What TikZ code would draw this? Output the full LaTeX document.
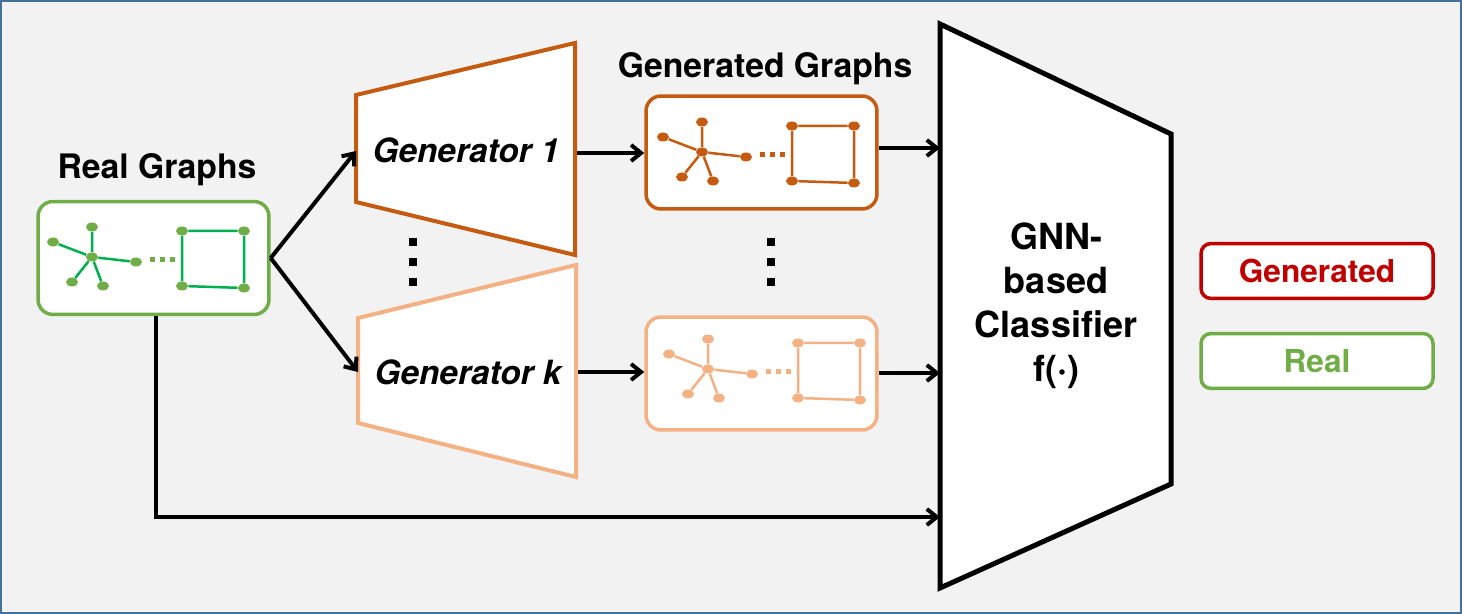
\documentclass[tikz,border=0pt]{standalone}
\usepackage{fontspec}
\setmainfont{TeX Gyre Heros}
\usepackage{tikz}
\usetikzlibrary{arrows.meta, positioning, shapes.geometric}
\definecolor{bgcolor}{RGB}{242,242,242}
\definecolor{framecolor}{RGB}{65,113,156}
\definecolor{realcolor}{RGB}{112,173,71}
\definecolor{realedge}{RGB}{0,176,80}
\definecolor{gencolor}{RGB}{197,90,17}
\definecolor{genlight}{RGB}{244,177,131}
\definecolor{fakecolor}{RGB}{192,0,0}

% small graph: star on the left, dots, square on the right
\newcommand{\minigraph}[4]{%
  \begin{scope}[shift={#2}]
    \node[gnode, fill=#4] (#1h) at (0,0) {};
    \node[gnode, fill=#4] (#1t) at (0,-30) {};
    \node[gnode, fill=#4] (#1l) at (-39,-15) {};
    \node[gnode, fill=#4] (#1r) at (44,5) {};
    \node[gnode, fill=#4] (#1a) at (-20,25) {};
    \node[gnode, fill=#4] (#1b) at (11,29) {};
    \node[gnode, fill=#4] (#1s1) at (90,-26) {};
    \node[gnode, fill=#4] (#1s2) at (152,-26) {};
    \node[gnode, fill=#4] (#1s3) at (152,31) {};
    \node[gnode, fill=#4] (#1s4) at (90,29) {};
    \draw[gedge, #3] (#1h) -- (#1t) (#1h) -- (#1l) (#1h) -- (#1r) (#1h) -- (#1a) (#1h) -- (#1b);
    \draw[gedge, #3] (#1s1) -- (#1s2) -- (#1s3) -- (#1s4) -- (#1s1);
    \foreach \d in {60,70,80} \fill[#4] (\d-2.5,0.5) rectangle (\d+2.5,5.5);
  \end{scope}}

\begin{document}
\begin{tikzpicture}[
    x=0.02cm, y=-0.02cm,
    label/.style={font=\fontsize{19.2}{22}\selectfont\bfseries},
    genlabel/.style={font=\fontsize{19}{22}\selectfont\bfseries\itshape},
    graphbox/.style={draw, line width=0.07cm, fill=white, rounded corners=0.3cm, minimum width=4.62cm, minimum height=2.26cm},
    legend/.style={draw, line width=0.07cm, fill=white, rounded corners=0.2cm, minimum width=4.64cm, minimum height=1.1cm, font=\fontsize{18}{22}\selectfont\bfseries},
    gnode/.style={ellipse, inner sep=0pt, minimum width=0.24cm, minimum height=0.18cm},
    gedge/.style={line width=0.05cm},
    flow/.style={line width=0.08cm, -{Straight Barb[length=0.2cm, width=0.32cm]}},
]
    % Frame
    \useasboundingbox (0,0) rectangle (1462,614);
    \draw[fill=bgcolor, draw=framecolor, line width=0.04cm] (1,1) rectangle (1461,613);

    % Real graphs
    \node[label] (reallabel) at (157,170) {Real Graphs};
    \node[graphbox, draw=realcolor] (real) at (153.5,258) {};
    \minigraph{rg}{(92,257)}{realedge}{realcolor}

    % Generators
    \draw[line width=0.08cm, draw=gencolor, fill=white] (356,95) -- (575,43) -- (575,255) -- (356,202) -- cycle;
    \node[genlabel] (gen1) at (466,150) {Generator 1};
    \draw[line width=0.08cm, draw=genlight, fill=white] (358,318) -- (576,265) -- (576,477) -- (358,423) -- cycle;
    \node[genlabel] (genk) at (468,372) {Generator k};
    \foreach \y in {242,262,282} \fill (409,\y-4) rectangle (417,\y+4);
    \coordinate (g1in) at (356,151);
    \coordinate (gkin) at (358,372);
    \coordinate (g1out) at (577,153);
    \coordinate (gkout) at (578,372);

    % Generated graphs
    \node[label] (genlabel) at (765,69) {Generated Graphs};
    \node[graphbox, draw=gencolor] (fake1) at (761.5,152.5) {};
    \minigraph{fa}{(702,152)}{gencolor}{gencolor}
    \node[graphbox, draw=genlight] (fakek) at (761.5,373.5) {};
    \minigraph{fb}{(708,369)}{genlight}{genlight}
    \foreach \y in {242,262,282} \fill (767,\y-4) rectangle (775,\y+4);

    % Classifier
    \draw[line width=0.1cm, fill=white] (940,24) -- (1171,134) -- (1171,484) -- (940,588) -- cycle;
    \node[font=\fontsize{20.5}{25}\selectfont\bfseries, align=center] (cls) at (1056,306) {GNN-\\based\\Classifier\\f(·)};
    \coordinate (c1) at (940,148);
    \coordinate (c2) at (940,373);
    \coordinate (c3) at (940,517);

    % Legend
    \node[legend, draw=fakecolor, text=fakecolor] (outfake) at (1317,271) {Generated};
    \node[legend, draw=realcolor, text=realcolor] (outreal) at (1317,361) {Real};

    % Arrows
    \draw[flow] (real.east) -- (g1in);
    \draw[flow] (real.east) -- (gkin);
    \draw[flow] (g1out) -- (fake1.west |- g1out);
    \draw[flow] (gkout) -- (fakek.west |- gkout);
    \draw[flow] (fake1.east |- c1) -- (c1);
    \draw[flow] (fakek.east |- c2) -- (c2);
    \draw[flow] (real.south -| 155.5,0) |- (c3);
\end{tikzpicture}
\end{document}
